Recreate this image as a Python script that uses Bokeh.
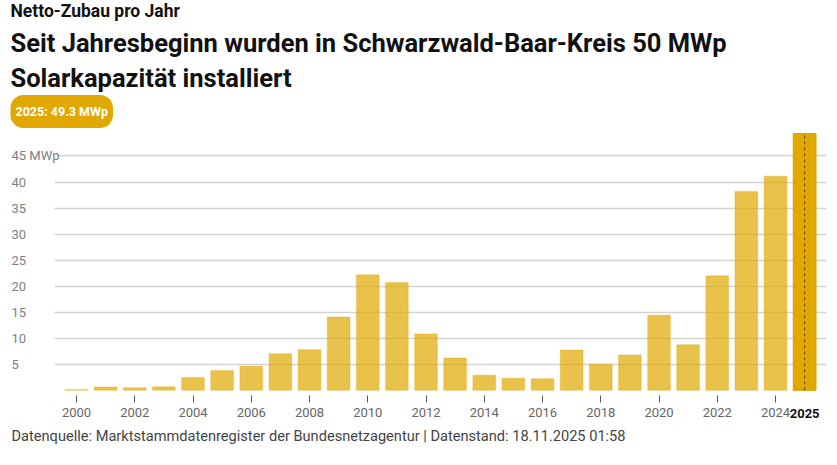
from bokeh.plotting import figure
from bokeh.models import Range1d, FixedTicker, Title
from bokeh.core.properties import value
from bokeh.embed import file_html
from bokeh.resources import INLINE

years = list(range(2000, 2025))
mwp = [0.15, 0.65, 0.5, 0.7, 2.45, 3.8, 4.6, 7.0, 7.8, 14.1, 22.2, 20.7, 10.8,
       6.2, 2.9, 2.3, 2.2, 7.75, 5.0, 6.8, 14.4, 8.75, 22.0, 38.2, 41.1]
cur_year = [2025]
cur_mwp = [49.3]
x_ticks = list(range(2000, 2025, 2))
y_ticks = [5, 10, 15, 20, 25, 30, 35, 40, 45]
y_labels = ["5", "10", "15", "20", "25", "30", "35", "40", "45 MWp"]

FONT = "Roboto"
YEL = "#e0a800"
X0, X1 = 1997.768, 2025.751
AXIS_Y = -1.06

p = figure(width=828, height=449, output_backend="svg", toolbar_location=None,
           x_range=Range1d(X0, X1), y_range=Range1d(-5.8, 49.7),
           min_border_left=11, min_border_right=2, min_border_top=0, min_border_bottom=0)
p.outline_line_color = None
p.background_fill_color = "white"
p.border_fill_color = "white"

# axes
p.yaxis.visible = False
p.yaxis.ticker = FixedTicker(ticks=y_ticks)
p.xgrid.visible = False
p.ygrid.grid_line_color = "#d4d4d4"
p.ygrid.grid_line_width = 1.3
try:
    p.ygrid.cross_bounds = (1999.245, X1)
except Exception:
    pass

xa = p.xaxis[0]
xa.fixed_location = AXIS_Y
xa.ticker = FixedTicker(ticks=x_ticks)
xa.axis_line_color = None
xa.major_tick_in = 0
xa.major_tick_out = 7
xa.major_tick_line_color = "#555555"
xa.minor_tick_line_color = None
xa.major_label_standoff = 5
xa.major_label_text_font = FONT
xa.major_label_text_font_size = "13px"
xa.major_label_text_color = "#666666"

# bars
p.vbar(x=years, top=mwp, width=0.78, bottom=0, fill_color=YEL, fill_alpha=0.7,
       line_color=YEL, line_alpha=0.25, line_width=1.5)
p.vbar(x=cur_year, top=cur_mwp, width=0.78, bottom=0, fill_color=YEL, fill_alpha=1.0,
       line_color="#d49f00", line_width=1)
p.segment(x0=cur_year, y0=[0], x1=cur_year, y1=cur_mwp, line_color="#5a4500",
          line_dash="3 3", line_width=1)

# y labels
p.text(x=[X0] * len(y_ticks), y=y_ticks, text=y_labels, text_align="left",
       text_baseline="middle", text_font=value(FONT), text_font_size="13px",
       text_color="#808080")

# current-year label in the tick-label row
p.text(x=cur_year, y=[0], text=[str(y) for y in cur_year], text_align="center",
       text_baseline="middle", y_offset=23.5, text_font=value(FONT), text_font_size="13px",
       text_font_style="bold", text_color="#111111")

# titles (closest to frame first)
badge = Title(text="2025: 49.3 MWp", align="left", text_font=FONT, text_font_size="12.5px",
              text_font_style="bold", text_color="white", background_fill_color=YEL,
              border_radius=13, standoff=7, offset=-1)
try:
    badge.padding = dict(x=5, y=9)
except Exception:
    badge.padding = 8
p.add_layout(badge, "above")
p.add_layout(Title(text="Solarkapazität installiert", align="left", text_font=FONT,
                   text_font_size="25.5px", text_font_style="bold", text_color="#111111",
                   standoff=-7, offset=-1), "above")
p.add_layout(Title(text="Seit Jahresbeginn wurden in Schwarzwald-Baar-Kreis 50 MWp", align="left",
                   text_font=FONT, text_font_size="25.5px", text_font_style="bold",
                   text_color="#111111", standoff=13, offset=-1), "above")
p.add_layout(Title(text="Netto-Zubau pro Jahr", align="left", text_font=FONT, text_font_size="17.5px",
                   text_font_style="bold", text_color="#111111", standoff=-3, offset=-1), "above")

p.add_layout(Title(text="Datenquelle: Marktstammdatenregister der Bundesnetzagentur | Datenstand: 18.11.2025 01:58",
                   align="left", text_font=FONT, text_font_size="14.6px", text_font_style="normal",
                   text_color="#444444", standoff=9, offset=0), "below")

open("out.html", "w").write(file_html(p, INLINE))
